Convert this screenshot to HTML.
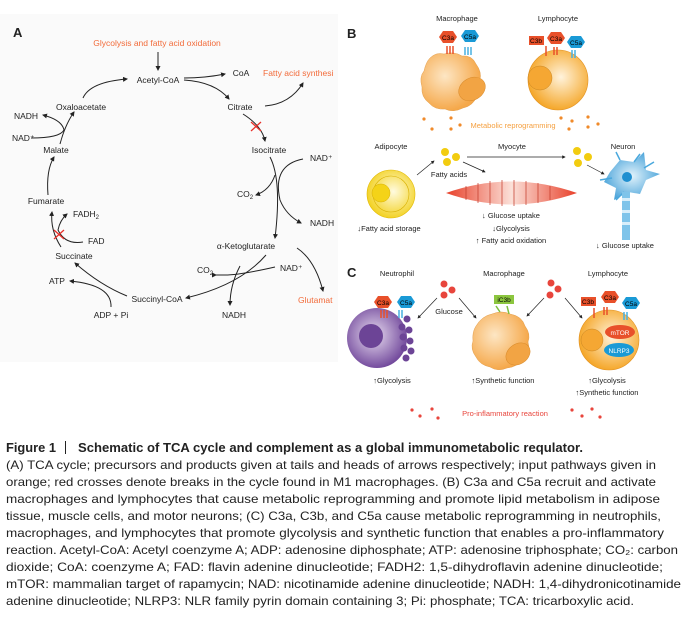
<!DOCTYPE html>
<html><head><meta charset="utf-8"><style>
body{margin:0;background:#fff;width:696px;height:617px;overflow:hidden;position:relative;font-family:"Liberation Sans",sans-serif}
svg{position:absolute;left:0;top:0}
</style></head><body>
<svg width="696" height="617" viewBox="0 0 696 617" font-family="Liberation Sans, sans-serif">
<defs>
<marker id="ah" viewBox="0 0 10 10" refX="8" refY="5" markerWidth="5" markerHeight="5" orient="auto"><path d="M0,0L10,5L0,10z" fill="#222"/></marker>
<radialGradient id="mac" cx="0.4" cy="0.4" r="0.6"><stop offset="0" stop-color="#fde6c4"/><stop offset="1" stop-color="#f5a84a"/></radialGradient>
<radialGradient id="lym" cx="0.55" cy="0.45" r="0.6"><stop offset="0" stop-color="#fff3dc"/><stop offset="1" stop-color="#f4a11c"/></radialGradient>
<radialGradient id="adi" cx="0.55" cy="0.45" r="0.6"><stop offset="0" stop-color="#fffbe0"/><stop offset="1" stop-color="#f2cf16"/></radialGradient>
<radialGradient id="neu" cx="0.45" cy="0.45" r="0.6"><stop offset="0" stop-color="#e8dcf0"/><stop offset="1" stop-color="#6a3f96"/></radialGradient>
<linearGradient id="myo" x1="0" x2="1"><stop offset="0" stop-color="#e8402a"/><stop offset="0.5" stop-color="#fbe0d8"/><stop offset="1" stop-color="#e8402a"/></linearGradient>
<radialGradient id="nrn" cx="0.5" cy="0.5" r="0.6"><stop offset="0" stop-color="#e0f2fb"/><stop offset="1" stop-color="#3a9bd6"/></radialGradient>
</defs>
<rect x="0" y="14" width="338" height="348" fill="#fafafa"/>
<g font-size="8.5" fill="#222" stroke="none">
<text x="13" y="37" font-size="13" font-weight="bold">A</text>
<text x="157" y="46" fill="#f26b3a" text-anchor="middle">Glycolysis and fatty acid oxidation</text>
<text x="158" y="83" text-anchor="middle">Acetyl-CoA</text>
<text x="241" y="76" text-anchor="middle">CoA</text>
<text x="263" y="76" fill="#f26b3a">Fatty acid synthesi</text>
<text x="240" y="110" text-anchor="middle">Citrate</text>
<text x="81" y="110" text-anchor="middle">Oxaloacetate</text>
<text x="26" y="119" text-anchor="middle">NADH</text>
<text x="12" y="141">NAD⁺</text>
<text x="56" y="153" text-anchor="middle">Malate</text>
<text x="269" y="153" text-anchor="middle">Isocitrate</text>
<text x="310" y="161">NAD⁺</text>
<text x="237" y="197">CO<tspan font-size="6" dy="2">2</tspan></text>
<text x="310" y="226">NADH</text>
<text x="46" y="204" text-anchor="middle">Fumarate</text>
<text x="73" y="217">FADH<tspan font-size="6" dy="2">2</tspan></text>
<text x="88" y="244">FAD</text>
<text x="74" y="259" text-anchor="middle">Succinate</text>
<text x="246" y="249" text-anchor="middle">α-Ketoglutarate</text>
<text x="280" y="271">NAD⁺</text>
<text x="197" y="273">CO<tspan font-size="6" dy="2">2</tspan></text>
<text x="298" y="303" fill="#f26b3a">Glutamat</text>
<text x="57" y="284" text-anchor="middle">ATP</text>
<text x="157" y="302" text-anchor="middle">Succinyl-CoA</text>
<text x="111" y="318" text-anchor="middle">ADP + Pi</text>
<text x="234" y="318" text-anchor="middle">NADH</text>
</g>
<g fill="none" stroke="#222" stroke-width="1" marker-end="url(#ah)">
<path d="M158,52V70"/>
<path d="M184,78Q205,78 225,74"/>
<path d="M184,80Q215,82 229,99"/>
<path d="M265,106Q290,104 303,83"/>
<path d="M243,114Q262,126 265,141"/>
<path d="M270,157Q282,180 275,238"/>
<path d="M275,175Q270,190 256,195"/>
<path d="M303,159Q272,165 280,200Q286,215 301,223"/>
<path d="M266,255Q240,285 186,298"/>
<path d="M275,267Q240,275 225,275Q215,275 216,275"/>
<path d="M240,266Q230,285 230,305"/>
<path d="M297,248Q315,260 323,291"/>
<path d="M127,296Q100,285 75,263"/>
<path d="M111,307Q112,285 70,281"/>
<path d="M61,247Q50,230 52,212"/>
<path d="M83,242Q65,245 58,230Q60,220 67,214"/>
<path d="M48,195Q46,170 54,157"/>
<path d="M60,144Q65,125 74,112"/>
<path d="M31,138Q60,138 64,130Q62,120 43,115"/>
<path d="M83,98Q90,82 127,79"/>
</g>
<g stroke="#e8302a" stroke-width="1.3"><path d="M251,122l10,9M261,122l-10,9M54,230l10,9M64,230l-10,9"/></g>

<!-- Panel B -->
<g font-size="7.5" fill="#222">
<text x="347" y="38" font-size="13" font-weight="bold">B</text>
<text x="457" y="21" text-anchor="middle">Macrophage</text>
<text x="558" y="21" text-anchor="middle">Lymphocyte</text>
<text x="391" y="149" text-anchor="middle">Adipocyte</text>
<text x="512" y="149" text-anchor="middle">Myocyte</text>
<text x="623" y="149" text-anchor="middle">Neuron</text>
<text x="449" y="177" text-anchor="middle">Fatty acids</text>
<text x="389" y="231" text-anchor="middle">↓Fatty acid storage</text>
<text x="511" y="218" text-anchor="middle">↓ Glucose uptake</text>
<text x="511" y="231" text-anchor="middle">↓Glycolysis</text>
<text x="511" y="243" text-anchor="middle">↑ Fatty acid oxidation</text>
<text x="625" y="248" text-anchor="middle">↓ Glucose uptake</text>
<text x="513" y="128" text-anchor="middle" fill="#f5a040">Metabolic reprogramming</text>
</g>
<path d="M430,58q6,-6 14,-4q10,-3 18,2q10,-1 14,8q6,8 4,16q3,10 -3,16q-4,10 -14,12q-10,5 -18,1q-10,1 -16,-6q-8,-6 -7,-16q-3,-10 2,-16q2,-9 6,-13z" fill="url(#mac)" stroke="#e3a050" stroke-width="0.5"/>
<ellipse cx="472" cy="89" rx="14" ry="11" transform="rotate(-30 472 89)" fill="#f2a444" stroke="#d88a2a" stroke-width="0.5"/>
<circle cx="558" cy="80" r="30" fill="url(#lym)" stroke="#e09020" stroke-width="0.6"/>
<circle cx="540" cy="78" r="12" fill="#f5a733" stroke="#c98520" stroke-width="0.5"/>
<g font-size="6.5" text-anchor="middle">
<polygon points="443,31 453,31 457,37 453,43 443,43 439,37" fill="#e8502a"/><text x="448" y="40">C3a</text>
<polygon points="465,30 475,30 479,36 475,42 465,42 461,36" fill="#1a9ad6"/><text x="470" y="39">C5a</text>
<rect x="529" y="36" width="15" height="9" fill="#e8502a"/><text x="536" y="43">C3b</text>
<polygon points="551,32 561,32 565,38 561,44 551,44 547,38" fill="#e8502a"/><text x="556" y="41">C3a</text>
<polygon points="571,36 581,36 585,42 581,48 571,48 567,42" fill="#1a9ad6"/><text x="576" y="45">C5a</text>
</g>
<g stroke-width="1.5"><path d="M447,46v8M450,46v8M453,46v8" stroke="#e8502a"/><path d="M465,47v8M468,47v8M471,47v8" stroke="#48b0e0"/>
<path d="M546,46v10" stroke="#e8502a"/><path d="M554,47v8M557,47v8" stroke="#e8502a"/><path d="M572,50v8M575,50v8" stroke="#48b0e0"/></g>
<g fill="#f08a2a"><circle cx="424" cy="119" r="1.6"/><circle cx="432" cy="129" r="1.6"/><circle cx="451" cy="118" r="1.6"/><circle cx="451" cy="129" r="1.6"/><circle cx="460" cy="125" r="1.6"/><circle cx="561" cy="118" r="1.6"/><circle cx="572" cy="121" r="1.6"/><circle cx="588" cy="117" r="1.6"/><circle cx="569" cy="129" r="1.6"/><circle cx="588" cy="127" r="1.6"/><circle cx="598" cy="124" r="1.6"/></g>
<circle cx="391" cy="194" r="24" fill="url(#adi)" stroke="#e0b800" stroke-width="0.6"/>
<path d="M391,176a18,18 0 1,1 0,36a18,18 0 0,1 0,-36z" fill="none" stroke="#d8b000" stroke-width="0.6"/>
<circle cx="381" cy="193" r="9" fill="#f4d318" stroke="#d8b000" stroke-width="0.5"/>
<g fill="#f2cc10"><circle cx="445" cy="152" r="4"/><circle cx="456" cy="157" r="4"/><circle cx="447" cy="162" r="4"/><circle cx="577" cy="151" r="4"/><circle cx="588" cy="157" r="4"/><circle cx="578" cy="163" r="4"/></g>
<g fill="none" stroke="#222" stroke-width="0.7" marker-end="url(#ah)"><path d="M417,175L434,161"/><path d="M467,157H565"/><path d="M463,162L485,172"/><path d="M587,165L604,174"/></g>
<path d="M446,193Q511,170 577,193Q511,216 446,193z" fill="url(#myo)"/>
<g stroke="#c43a2a" stroke-width="1.2" opacity="0.6"><path d="M466,186v14M478,183v20M490,181v24M502,180v26M514,180v26M526,181v24M538,183v20M550,186v14"/></g>
<path d="M610,172l10,-12l14,2l10,-10l2,18l14,4l-14,6l-6,14l-12,-2l-14,8l2,-12l-12,-6z" fill="url(#nrn)"/>
<g stroke="#4aa8dd" stroke-width="1.5" fill="none"><path d="M620,160l-4,-8M634,162l6,-8M644,168l10,-6M612,178l-12,2M624,192l-8,8"/></g>
<circle cx="627" cy="177" r="5" fill="#1f8fd0"/>
<rect x="622" y="192" width="8" height="48" fill="#7fc4ea"/>
<g fill="#d8eefa"><rect x="622" y="198" width="8" height="3"/><rect x="622" y="210" width="8" height="3"/><rect x="622" y="222" width="8" height="3"/></g>

<!-- Panel C -->
<g font-size="7.5" fill="#222">
<text x="347" y="277" font-size="13" font-weight="bold">C</text>
<text x="397" y="276" text-anchor="middle">Neutrophil</text>
<text x="504" y="276" text-anchor="middle">Macrophage</text>
<text x="608" y="276" text-anchor="middle">Lymphocyte</text>
<text x="449" y="314" text-anchor="middle">Glucose</text>
<text x="392" y="383" text-anchor="middle">↑Glycolysis</text>
<text x="503" y="383" text-anchor="middle">↑Synthetic function</text>
<text x="607" y="383" text-anchor="middle">↑Glycolysis</text>
<text x="607" y="395" text-anchor="middle">↑Synthetic function</text>
<text x="505" y="416" text-anchor="middle" fill="#e8453c">Pro-inflammatory reaction</text>
</g>
<g fill="#e8453c"><circle cx="444" cy="284" r="3.5"/><circle cx="452" cy="290" r="3.5"/><circle cx="444" cy="295" r="3.5"/><circle cx="551" cy="283" r="3.5"/><circle cx="558" cy="289" r="3.5"/><circle cx="550" cy="295" r="3.5"/>
<circle cx="412" cy="410" r="1.6"/><circle cx="420" cy="416" r="1.6"/><circle cx="432" cy="409" r="1.6"/><circle cx="438" cy="418" r="1.6"/><circle cx="572" cy="410" r="1.6"/><circle cx="582" cy="416" r="1.6"/><circle cx="592" cy="409" r="1.6"/><circle cx="600" cy="417" r="1.6"/></g>
<g fill="none" stroke="#222" stroke-width="0.7" marker-end="url(#ah)"><path d="M437,298L418,318"/><path d="M459,298L476,318"/><path d="M544,298L527,316"/><path d="M565,298L582,318"/></g>
<circle cx="377" cy="338" r="30" fill="url(#neu)"/>
<circle cx="371" cy="336" r="12" fill="#6c4496"/>
<g fill="#6c4496"><circle cx="407" cy="319" r="3.5"/><circle cx="402" cy="327" r="3.5"/><circle cx="409" cy="330" r="3.5"/><circle cx="403" cy="337" r="3.5"/><circle cx="410" cy="341" r="3.5"/><circle cx="404" cy="348" r="3.5"/><circle cx="411" cy="351" r="3.5"/><circle cx="406" cy="358" r="3.5"/></g>
<path d="M476,326q6,-10 16,-12q10,-4 18,0q12,2 15,12q6,8 3,16q3,10 -5,16q-5,9 -16,10q-9,4 -17,-1q-10,-2 -14,-10q-6,-8 -3,-16q-1,-9 3,-15z" fill="url(#mac)" stroke="#e3a050" stroke-width="0.5"/>
<ellipse cx="518" cy="354" rx="13" ry="10" transform="rotate(-35 518 354)" fill="#f2a444" stroke="#d88a2a" stroke-width="0.5"/>
<circle cx="609" cy="340" r="30" fill="url(#lym)" stroke="#e09020" stroke-width="0.6"/>
<circle cx="592" cy="340" r="11" fill="#f5a733" stroke="#c98520" stroke-width="0.5"/>
<ellipse cx="620" cy="332" rx="15" ry="7" fill="#e8502a"/>
<ellipse cx="619" cy="350" rx="15" ry="7" fill="#1a9ad6"/>
<g font-size="6.5" text-anchor="middle">
<text x="620" y="335" fill="#fff">mTOR</text><text x="619" y="353" fill="#fff">NLRP3</text>
<polygon points="378,296 388,296 392,302 388,308 378,308 374,302" fill="#e8502a"/><text x="383" y="305">C3a</text>
<polygon points="401,296 411,296 415,302 411,308 401,308 397,302" fill="#1a9ad6"/><text x="406" y="305">C5a</text>
<rect x="494" y="295" width="20" height="9" fill="#8cc63f"/><text x="504" y="302">iC3b</text>
<rect x="581" y="297" width="15" height="9" fill="#e8502a"/><text x="588" y="304">C3b</text>
<polygon points="605,291 615,291 619,297 615,303 605,303 601,297" fill="#e8502a"/><text x="610" y="300">C3a</text>
<polygon points="626,297 636,297 640,303 636,309 626,309 622,303" fill="#1a9ad6"/><text x="631" y="306">C5a</text>
</g>
<g stroke-width="1.5"><path d="M381,310v8M384,310v8M387,310v8" stroke="#e8502a"/><path d="M399,310v8M402,310v8" stroke="#48b0e0"/>
<path d="M496,306l4,6M507,306l2,8" stroke="#7cbf3f"/><path d="M594,308v10" stroke="#e8502a"/><path d="M604,307v8M607,307v8" stroke="#e8502a"/><path d="M624,312v8M627,312v8" stroke="#48b0e0"/></g>

<!-- Caption -->
<g font-family="Liberation Sans, sans-serif" fill="#222">
<text x="6" y="452" font-size="12.5" font-weight="bold" textLength="50" lengthAdjust="spacingAndGlyphs">Figure 1</text>
<rect x="65" y="441" width="1" height="13" fill="#222"/>
<text x="78" y="452" font-size="12.5" font-weight="bold" textLength="505" lengthAdjust="spacingAndGlyphs">Schematic of TCA cycle and complement as a global immunometabolic requlator.</text>
<g font-size="12">
<text x="6" y="469" textLength="650" lengthAdjust="spacingAndGlyphs">(A) TCA cycle; precursors and products given at tails and heads of arrows respectively; input pathways given in</text>
<text x="6" y="486" textLength="650" lengthAdjust="spacingAndGlyphs">orange; red crosses denote breaks in the cycle found in M1 macrophages. (B) C3a and C5a recruit and activate</text>
<text x="6" y="503" textLength="654" lengthAdjust="spacingAndGlyphs">macrophages and lymphocytes that cause metabolic reprogramming and promote lipid metabolism in adipose</text>
<text x="6" y="520" textLength="655" lengthAdjust="spacingAndGlyphs">tissue, muscle cells, and motor neurons; (C) C3a, C3b, and C5a cause metabolic reprogramming in neutrophils,</text>
<text x="6" y="537" textLength="658" lengthAdjust="spacingAndGlyphs">macrophages, and lymphocytes that promote glycolysis and synthetic function that enables a pro-inflammatory</text>
<text x="6" y="554" textLength="672" lengthAdjust="spacingAndGlyphs">reaction. Acetyl-CoA: Acetyl coenzyme A; ADP: adenosine diphosphate; ATP: adenosine triphosphate; CO₂: carbon</text>
<text x="6" y="571" textLength="657" lengthAdjust="spacingAndGlyphs">dioxide; CoA: coenzyme A; FAD: flavin adenine dinucleotide; FADH2: 1,5-dihydroflavin adenine dinucleotide;</text>
<text x="6" y="588" textLength="675" lengthAdjust="spacingAndGlyphs">mTOR: mammalian target of rapamycin; NAD: nicotinamide adenine dinucleotide; NADH: 1,4-dihydronicotinamide</text>
<text x="6" y="605" textLength="628" lengthAdjust="spacingAndGlyphs">adenine dinucleotide; NLRP3: NLR family pyrin domain containing 3; Pi: phosphate; TCA: tricarboxylic acid.</text>
</g></g>
</svg>
</body></html>
